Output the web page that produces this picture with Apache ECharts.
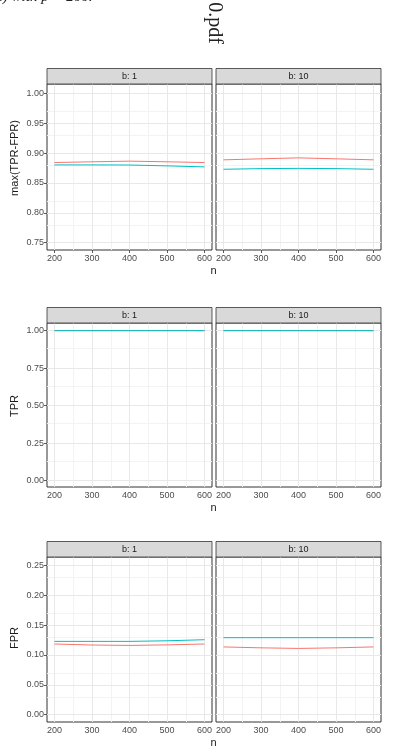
<!DOCTYPE html>
<html><head><meta charset="utf-8">
<script src="https://cdn.jsdelivr.net/npm/echarts@6/dist/echarts.min.js"></script>
<style>html,body{margin:0;padding:0;background:#fff}#c{width:405px;height:746px}</style>
</head><body><div id="c"></div>
<script>
// ---------- data ----------
const nValues = [200, 300, 400, 500, 600];
const facetLabels = ['b: 1', 'b: 10'];
const metricNames = ['max(TPR-FPR)', 'TPR', 'FPR'];

const youdenRedB1   = [0.8843, 0.8855, 0.8866, 0.8855, 0.8843];
const youdenTealB1  = [0.8803, 0.8803, 0.8801, 0.8787, 0.8770];
const youdenRedB10  = [0.8888, 0.8905, 0.8921, 0.8905, 0.8888];
const youdenTealB10 = [0.8730, 0.8741, 0.8745, 0.8741, 0.8730];

const tprRedB1   = [1.00, 1.00, 1.00, 1.00, 1.00];
const tprTealB1  = [1.00, 1.00, 1.00, 1.00, 1.00];
const tprRedB10  = [1.00, 1.00, 1.00, 1.00, 1.00];
const tprTealB10 = [1.00, 1.00, 1.00, 1.00, 1.00];

const fprRedB1   = [0.1184, 0.1167, 0.1160, 0.1170, 0.1184];
const fprTealB1  = [0.1228, 0.1228, 0.1228, 0.1238, 0.1256];
const fprRedB10  = [0.1135, 0.1120, 0.1110, 0.1120, 0.1135];
const fprTealB10 = [0.1290, 0.1290, 0.1290, 0.1290, 0.1290];

const xTicks = [200, 300, 400, 500, 600];
const xMinor = [250, 350, 450, 550];
const youdenTicks = [0.75, 0.80, 0.85, 0.90, 0.95, 1.00];
const youdenMinor = [0.775, 0.825, 0.875, 0.925, 0.975];
const tprTicks = [0.00, 0.25, 0.50, 0.75, 1.00];
const tprMinor = [0.125, 0.375, 0.625, 0.875];
const fprTicks = [0.00, 0.05, 0.10, 0.15, 0.20, 0.25];
const fprMinor = [0.025, 0.075, 0.125, 0.175, 0.225];

// ---------- layout ----------
const RED = '#F8766D', TEAL = '#00BFC4';
const FONT = '"Liberation Sans", Arial, sans-serif';
const rows = [
  {top: 84, height: 166, range: [0.7378, 1.0158], ticks: youdenTicks, minor: youdenMinor,
   series: [[youdenRedB1, youdenTealB1], [youdenRedB10, youdenTealB10]], titleY: 158},
  {top: 323, height: 164, range: [-0.042, 1.051], ticks: tprTicks, minor: tprMinor,
   series: [[tprRedB1, tprTealB1], [tprRedB10, tprTealB10]], titleY: 406},
  {top: 557, height: 165, range: [-0.0122, 0.2641], ticks: fprTicks, minor: fprMinor,
   series: [[fprRedB1, fprTealB1], [fprRedB10, fprTealB10]], titleY: 638}
];
const colLeft = [47, 216];
const panelW = 165;
const xRange = [180, 620];

const grid = [], xAxis = [], yAxis = [], series = [], graphic = [];
let idx = 0;
rows.forEach((row, r) => {
  colLeft.forEach((left, c) => {
    grid.push({left: left, top: row.top, width: panelW, height: row.height,
      show: true, borderColor: '#333333', borderWidth: 1, backgroundColor: '#fff', containLabel: false});
    xAxis.push({type: 'value', gridIndex: idx, min: xRange[0], max: xRange[1],
      axisLine: {show: false},
      axisTick: {show: true, length: 3, lineStyle: {color: '#333', width: 0.8}, customValues: xTicks},
      axisLabel: {show: true, customValues: xTicks, color: '#4d4d4d', fontSize: 9, fontFamily: FONT, margin: 4},
      splitLine: {show: false}});
    yAxis.push({type: 'value', gridIndex: idx, min: row.range[0], max: row.range[1],
      axisLine: {show: false},
      axisTick: {show: c === 0, length: 3, lineStyle: {color: '#333', width: 0.8}, customValues: row.ticks},
      axisLabel: {show: c === 0, customValues: row.ticks, color: '#4d4d4d', fontSize: 9, fontFamily: FONT, margin: 3,
        formatter: v => v.toFixed(2)},
      splitLine: {show: false}});
    // grid lines (minor then major)
    series.push({type: 'line', xAxisIndex: idx, yAxisIndex: idx, data: [], silent: true, z: 1,
      markLine: {silent: true, symbol: 'none', animation: false, z: 1, label: {show: false},
        lineStyle: {color: '#f3f3f3', type: 'solid', width: 1},
        data: xMinor.map(v => ({xAxis: v})).concat(row.minor.map(v => ({yAxis: v})))}});
    series.push({type: 'line', xAxisIndex: idx, yAxisIndex: idx, data: [], silent: true, z: 1,
      markLine: {silent: true, symbol: 'none', animation: false, z: 1, label: {show: false},
        lineStyle: {color: '#e8e8e8', type: 'solid', width: 1},
        data: xTicks.map(v => ({xAxis: v})).concat(row.ticks.map(v => ({yAxis: v})))}});
    const [redVals, tealVals] = row.series[c];
    series.push({type: 'line', xAxisIndex: idx, yAxisIndex: idx, z: 3, showSymbol: false, animation: false,
      lineStyle: {color: RED, width: 1}, itemStyle: {color: RED},
      data: nValues.map((n, i) => [n, redVals[i]])});
    series.push({type: 'line', xAxisIndex: idx, yAxisIndex: idx, z: 4, showSymbol: false, animation: false,
      lineStyle: {color: TEAL, width: 1}, itemStyle: {color: TEAL},
      data: nValues.map((n, i) => [n, tealVals[i]])});
    // facet strip
    graphic.push({type: 'rect', shape: {x: left, y: row.top - 15.5, width: panelW, height: 15.5},
      style: {fill: '#d9d9d9', stroke: '#333333', lineWidth: 0.8}, z: 10});
    graphic.push({type: 'text', x: left + panelW / 2, y: row.top - 7.6,
      style: {text: facetLabels[c], fill: '#1a1a1a', font: '9px ' + FONT, textAlign: 'center', textVerticalAlign: 'middle'}, z: 11});
    idx++;
  });
  // axis titles
  graphic.push({type: 'text', x: 15, y: row.titleY, rotation: Math.PI / 2,
    style: {text: metricNames[r], fill: '#1a1a1a', font: '11px ' + FONT, textAlign: 'center', textVerticalAlign: 'middle'}, z: 11});
  graphic.push({type: 'text', x: 213.5, y: row.top + row.height + 20.7,
    style: {text: 'n', fill: '#1a1a1a', font: '11px ' + FONT, textAlign: 'center', textVerticalAlign: 'middle'}, z: 11});
});

// page fragments around the figure
graphic.push({type: 'text', x: -3, y: 5,
  style: {text: 's) with p = 200.', fill: '#222', font: 'italic 15px "Liberation Serif", "DejaVu Serif", serif', textAlign: 'left', textVerticalAlign: 'bottom'}, z: 11});
graphic.push({type: 'text', x: 214, y: 44, rotation: -Math.PI / 2,
  style: {text: '0.pdf', fill: '#222', font: '20px "Liberation Serif", "DejaVu Serif", serif', textAlign: 'right', textVerticalAlign: 'middle'}, z: 11});

const chart = echarts.init(document.getElementById('c'), null, {renderer: 'canvas'});
chart.setOption({animation: false, backgroundColor: '#ffffff', grid, xAxis, yAxis, series, graphic});
</script>
</body></html>
